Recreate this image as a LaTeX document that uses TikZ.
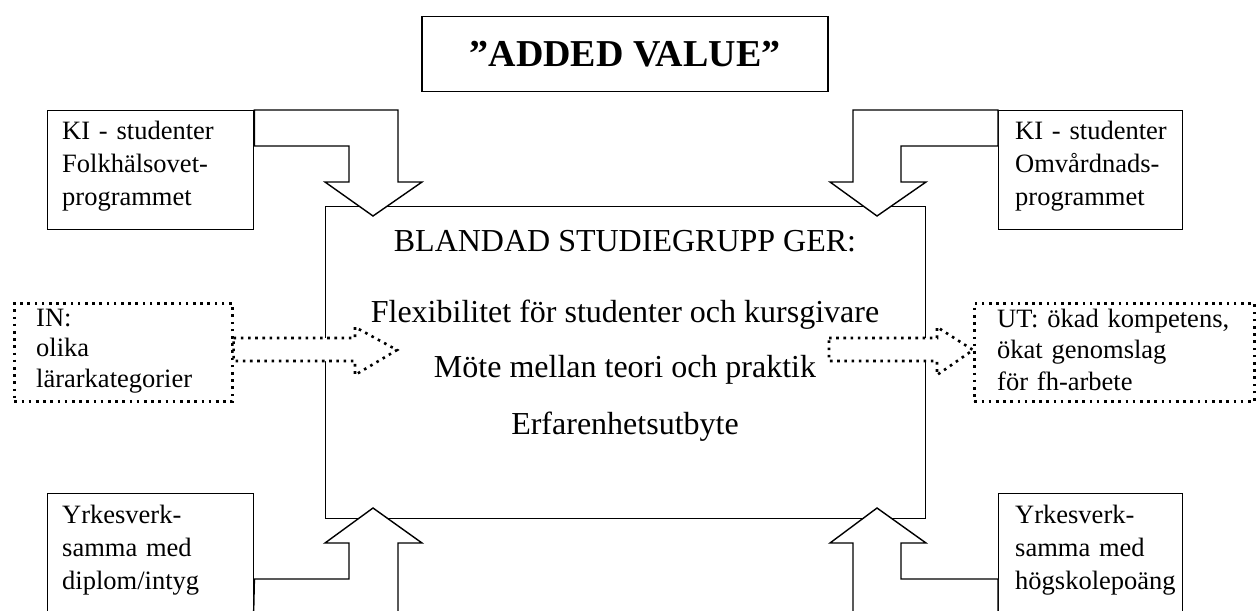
\documentclass[tikz,border=0pt]{standalone}
\usepackage{fontspec}
\setmainfont{Liberation Serif}
\usetikzlibrary{positioning,calc}
\tikzset{
  solidbox/.style={draw,line width=1.4pt,fill=white},
  dotbox/.style={draw,line width=2.6pt,dash pattern=on 2.6pt off 4.6pt},
  fatarrow/.style={draw,line width=1.4pt,fill=white,line join=miter},
  dotarrow/.style={dotbox,fill=white},
  smalltext/.style={font=\fontsize{26.5}{33}\selectfont,text width=260,align=left,inner sep=0pt,anchor=base west},
  bigtext/.style={font=\fontsize{32}{38}\selectfont,inner sep=0pt,anchor=base},
}
\begin{document}
\begin{tikzpicture}[x=1pt,y=-1pt]
    \useasboundingbox (0,0) rectangle (1257,610);
    % title
    \node[solidbox,minimum width=406,minimum height=75,font=\fontsize{38}{42}\selectfont\bfseries] (title) at (625,54) {”ADDED VALUE”};
    % boxes
    \node[solidbox,minimum width=206,minimum height=119,anchor=north west] (kifh) at (47,110) {};
    \node[solidbox,minimum width=184,minimum height=119,anchor=north west] (kiomv) at (998,110) {};
    \node[solidbox,minimum width=206,minimum height=140,anchor=north west] (yrkdip) at (47,493) {};
    \node[solidbox,minimum width=184,minimum height=140,anchor=north west] (yrkhp) at (998,493) {};
    \node[dotbox,minimum width=218,minimum height=98,anchor=north west] (inbox) at (13,302) {};
    \node[dotbox,minimum width=280,minimum height=98,anchor=north west] (utbox) at (973,302) {};
    \node[solidbox,minimum width=600,minimum height=312,anchor=north west] (group) at (325,206) {};
    % arrows into the group
    \draw[fatarrow] (kifh.north east) -- (398,110) -- (398,182) -- (422,182) -- (373,216) -- (325,182) -- (349,182) -- (349,146) -- ($(kifh.north east)+(0,36)$) -- cycle;
    \draw[fatarrow] (kiomv.north west) -- (853,110) -- (853,182) -- (830,182) -- (877,216) -- (926,182) -- (901,182) -- (901,146) -- ($(kiomv.north west)+(0,36)$) -- cycle;
    \draw[fatarrow] ($(yrkdip.north east)+(0,86)$) -- (349,579) -- (349,543) -- (325,543) -- (373,508) -- (422,543) -- (398,543) -- (398,640) -- (253,640) -- cycle;
    \draw[fatarrow] ($(yrkhp.north west)+(0,86)$) -- (901,579) -- (901,543) -- (926,543) -- (877,508) -- (830,543) -- (853,543) -- (853,640) -- (998,640) -- cycle;
    \draw[dotarrow] ($(inbox.north east)+(0,36)$) -- (355,338) -- (355,327) -- (397,350) -- (355,375) -- (355,361) -- ($(inbox.north east)+(0,59)$) -- cycle;
    \draw[dotarrow] (829,338) -- (937,338) -- (937,327) -- ($(utbox.north west)+(0,48)$) -- (937,375) -- (937,361) -- (829,361) -- cycle;
    % texts
    \node[bigtext] (ger) at (625,251) {BLANDAD STUDIEGRUPP GER:};
    \node[bigtext] (flex) at (625,322) {Flexibilitet för studenter och kursgivare};
    \node[bigtext] (mote) at (625,377) {Möte mellan teori och praktik};
    \node[bigtext] (erf) at (625,434) {Erfarenhetsutbyte};
    \node[smalltext] (kifh-t) at (62,139) {KI - studenter\\Folkhälsovet-\\programmet};
    \node[smalltext] (kiomv-t) at (1015,139) {KI - studenter\\Omvårdnads-\\programmet};
    \node[smalltext] (yrkdip-t) at (62,523) {Yrkesverk-\\samma med\\diplom/intyg};
    \node[smalltext] (yrkhp-t) at (1015,523) {Yrkesverk-\\samma med\\högskolepoäng};
    \node[smalltext,font=\fontsize{26.5}{30.5}\selectfont] (in-t) at (36,326) {IN:\\olika\\lärarkategorier};
    \node[smalltext,font=\fontsize{26.5}{31.5}\selectfont] (ut-t) at (997,327) {UT: ökad kompetens,\\ökat genomslag\\för fh-arbete};
\end{tikzpicture}
\end{document}
